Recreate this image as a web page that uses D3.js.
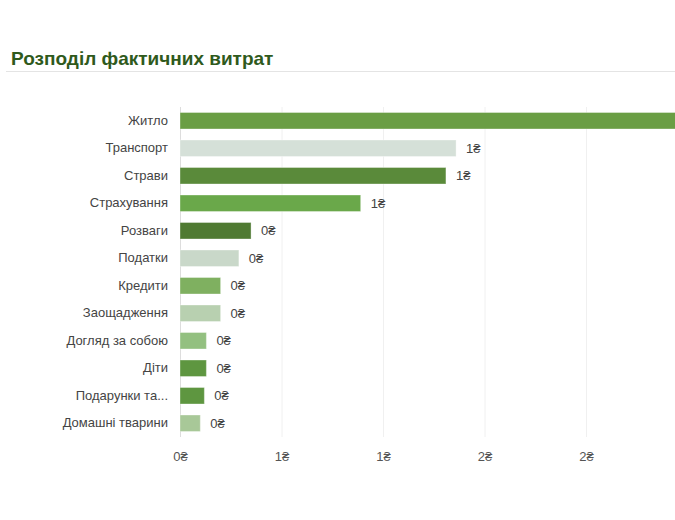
<!DOCTYPE html>
<html>
<head>
<meta charset="utf-8">
<script src="https://cdn.jsdelivr.net/npm/d3@7"></script>
<style>
  body { margin: 0; background: #fff; font-family: "Liberation Sans", Arial, sans-serif; overflow: hidden; }
</style>
</head>
<body>
<script>
const categories = ['Житло', 'Транспорт', 'Страви', 'Страхування', 'Розваги', 'Податки', 'Кредити',
  'Заощадження', 'Догляд за собою', 'Діти', 'Подарунки та...', 'Домашні тварини']
const values = [2.95, 1.36, 1.31, 0.89, 0.35, 0.29, 0.2, 0.2, 0.13, 0.13, 0.12, 0.1]
const valueLabels = ['2₴', '1₴', '1₴', '1₴', '0₴', '0₴', '0₴', '0₴', '0₴', '0₴', '0₴', '0₴']
const colors = ['#6a9e44', '#d5e0d8', '#5a8a3a', '#6aa84a', '#4f7a32', '#c9d8c9', '#7fb060',
  '#b8d0b0', '#93c080', '#5e9640', '#5e9640', '#a8c898']
const tickValues = [0, 0.5, 1, 1.5, 2]
const tickLabels = ['0₴', '1₴', '1₴', '2₴', '2₴']

const width = 675
const height = 520
const plotLeft = 180
const plotTop = 107
const plotBottom = plotTop + 27.5 * 12

const svg = d3.select('body').append('svg')
  .attr('width', width)
  .attr('height', height)

svg.append('text')
  .attr('x', 11).attr('y', 65)
  .attr('fill', '#2f5a1c')
  .attr('font-size', 19)
  .attr('font-weight', 'bold')
  .text('Розподіл фактичних витрат')

svg.append('line')
  .attr('x1', 6).attr('x2', width)
  .attr('y1', 71.5).attr('y2', 71.5)
  .attr('stroke', '#e4e4e4')

const x = d3.scaleLinear().domain([0, 0.5]).range([plotLeft, plotLeft + 101.5])
const y = d3.scaleBand().domain(categories).range([plotTop, plotBottom]).paddingInner(0.4).paddingOuter(0.2)

// grid
svg.append('g').selectAll('line')
  .data(tickValues.slice(1))
  .enter().append('line')
  .attr('x1', d => x(d) + 0.5).attr('x2', d => x(d) + 0.5)
  .attr('y1', plotTop).attr('y2', plotBottom)
  .attr('stroke', '#f0f0f0')

const xAxis = d3.axisBottom(x).tickValues(tickValues).tickSize(0)
  .tickFormat((d, i) => tickLabels[i])
const gx = svg.append('g').attr('transform', `translate(0, ${plotBottom + 12})`).call(xAxis)
gx.select('.domain').remove()
gx.selectAll('text').attr('fill', '#555').attr('font-size', 13)

const yAxis = d3.axisLeft(y).tickSize(0).tickPadding(12)
const gy = svg.append('g').attr('transform', `translate(${plotLeft}, 0)`).call(yAxis)
gy.select('.domain').remove()
gy.selectAll('text').attr('fill', '#444').attr('font-size', 13)

svg.append('line')
  .attr('x1', plotLeft + 0.5).attr('x2', plotLeft + 0.5)
  .attr('y1', plotTop).attr('y2', plotBottom)
  .attr('stroke', '#ddd')

svg.append('g').selectAll('rect')
  .data(values)
  .enter().append('rect')
  .attr('x', plotLeft)
  .attr('y', (d, i) => y(categories[i]))
  .attr('width', d => x(d) - plotLeft)
  .attr('height', y.bandwidth())
  .attr('fill', (d, i) => colors[i])
  .attr('stroke', '#fff').attr('stroke-opacity', 0.35)

svg.append('g').selectAll('text')
  .data(values)
  .enter().append('text')
  .attr('x', d => x(d) + 10)
  .attr('y', (d, i) => y(categories[i]) + y.bandwidth() / 2)
  .attr('dy', '0.35em')
  .attr('fill', '#444')
  .attr('font-size', 13)
  .text((d, i) => valueLabels[i])
</script>
</body>
</html>
